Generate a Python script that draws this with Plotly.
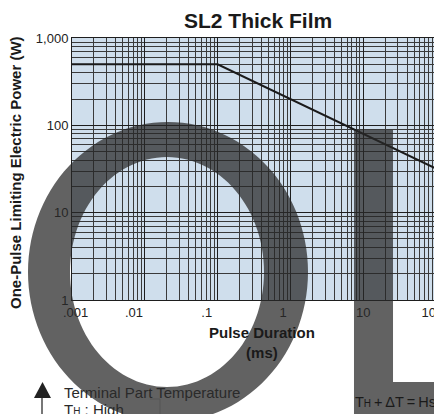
import numpy as np
import plotly.graph_objects as go

# ---- data ----
pulse_ms = [0.001, 0.1, 100]
power_w = [500, 500, 32]

NB = "\u00a0"
x_tick_vals = [0.001, 0.01, 0.1, 1, 10, 100]
x_tick_text = [NB * 2 + ".001", ".01" + NB * 6, ".1" + NB * 6, "1" + NB * 4, "10", "100" + NB * 2]
y_tick_vals = [1, 10, 100, 1000]
y_tick_text = ["1", "10", "100", "1,000"]

title_text = "SL2 Thick Film"
y_title = "One-Pulse Limiting Electric Power (W)"

# ---- layout geometry (page body has an 8px default margin) ----
OFF = 8
W, H = 442 - OFF, 414 - OFF
ML, MR, MT, MB = 72 - OFF, 6, 38 - OFF, 114
PW, PH = W - ML - MR, H - MT - MB

def P(px, py):
    """reference-window pixel -> paper coords"""
    fx, fy = px - OFF, py - OFF
    return (fx - ML) / PW, (H - MB - fy) / PH

x_minor = [m * 10.0 ** e for e in range(-3, 2) for m in range(2, 10)]
y_minor = [m * 10.0 ** e for e in range(0, 3) for m in range(2, 10)]

FONT = "Liberation Sans, Arial, sans-serif"

fig = go.Figure()
fig.add_trace(go.Scatter(x=pulse_ms, y=power_w, mode="lines",
                         line=dict(color="#1a1a1a", width=2), showlegend=False,
                         hoverinfo="skip"))

axis_common = dict(showgrid=True, gridcolor="#1e1e1e", gridwidth=1.2,
                   showline=True, linecolor="#1e1e1e", linewidth=1, mirror=True,
                   ticks="", zeroline=False, automargin=False, ticklabeloverflow="allow",
                   tickfont=dict(family=FONT, size=13, color="#222"))

fig.update_xaxes(type="log", range=[-3, 2], tickvals=x_tick_vals, ticktext=x_tick_text,
                 minor=dict(tickvals=x_minor, showgrid=True, gridcolor="#3a3a3a", gridwidth=1),
                 **axis_common)
fig.update_yaxes(type="log", range=[0, 3], tickvals=y_tick_vals, ticktext=y_tick_text,
                 minor=dict(tickvals=y_minor, showgrid=True, gridcolor="#3a3a3a", gridwidth=1),
                 **axis_common)

def poly(xs, ys, close=True):
    pts = [P(a, b) for a, b in zip(xs, ys)]
    s = "M" + " L".join(f"{a:.4f},{b:.4f}" for a, b in pts)
    return s + (" Z" if close else "")

shapes = []
# big "O" ring overlay
t = np.linspace(0, 2 * np.pi, 121)
ox, oy = 168 + 140 * np.cos(t), 272 + 150 * np.sin(t)
ix, iy = 167 + 97 * np.cos(t[::-1]), 272 + 115 * np.sin(t[::-1])
ring_path = poly(ox, oy) + " " + poly(ix, iy)
shapes.append(dict(type="path", xref="paper", yref="paper", path=ring_path,
                   fillcolor="rgb(40,40,40)", opacity=0.73, line=dict(width=0), layer="above"))
# big "L" overlay
Lx = [354, 393, 393, 460, 460, 354]
Ly = [130, 130, 382, 382, 430, 430]
shapes.append(dict(type="path", xref="paper", yref="paper", path=poly(Lx, Ly),
                   fillcolor="rgb(40,40,40)", opacity=0.73, line=dict(width=0), layer="above"))
# arrow triangle + stem
shapes.append(dict(type="path", xref="paper", yref="paper",
                   path=poly([42.5, 51, 34], [382, 398, 398]),
                   fillcolor="#222", line=dict(width=0), layer="above"))
x0, y0 = P(42, 398); x1, y1 = P(42, 420)
shapes.append(dict(type="line", xref="paper", yref="paper", x0=x0, y0=y0, x1=x1, y1=y1,
                   line=dict(color="#777", width=2), layer="above"))
# bracket
shapes.append(dict(type="path", xref="paper", yref="paper",
                   path=poly([150, 160, 160], [399, 399, 420], close=False),
                   line=dict(color="#555", width=1), layer="above"))

ann = []
def A(text, px, py, xanchor="center", yanchor="middle", size=13, angle=0, color="#1a1a1a"):
    x, y = P(px, py)
    ann.append(dict(text=text, x=x, y=y, xref="paper", yref="paper", showarrow=False,
                    xanchor=xanchor, yanchor=yanchor, textangle=angle,
                    font=dict(family=FONT, size=size, color=color)))

TS = "\u2009"
A(f"<b>{title_text}</b>", 258, 20, size=21)
A("<b>Pulse Duration</b><br><b>(ms)</b>", 262, 342, size=15)
A(f"<b>{y_title}</b>", 15, 173, size=15, angle=-90)
A("Terminal Part Temperature", 62, 392, xanchor="left", size=15, color="#2a2a2a")
A("T<span style='font-size:10px'>H</span> : High", 62, 409, xanchor="left", size=15, color="#2a2a2a")
A(f"T<span style='font-size:10px'>H</span>{TS}+{TS}ΔT{TS}={TS}Hs", 353, 402, xanchor="left",
  size=14.5, color="#1a1a1a")

fig.update_layout(width=W, height=H, margin=dict(l=ML, r=MR, t=MT, b=MB, autoexpand=False),
                  paper_bgcolor="white", plot_bgcolor="rgb(207,222,236)",
                  shapes=shapes, annotations=ann, showlegend=False)

fig.write_html("out.html")
